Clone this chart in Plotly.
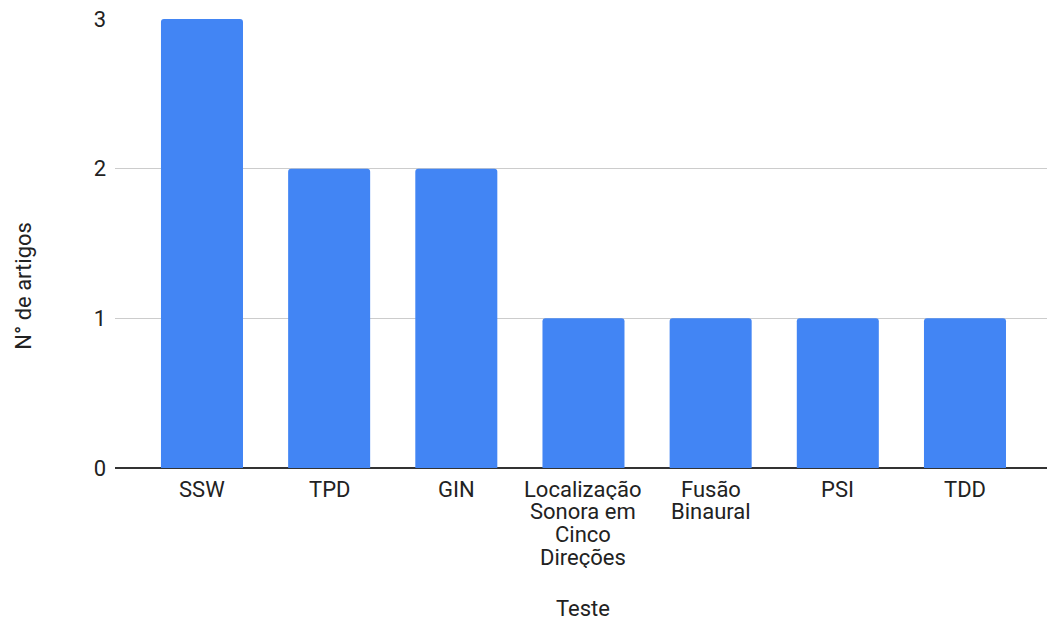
import plotly.graph_objects as go

# Testes de processamento auditivo e número de artigos que os utilizaram
testes = ["SSW", "TPD", "GIN", "Localização\nSonora em\nCinco\nDireções",
          "Fusão\nBinaural", "PSI", "TDD"]
n_artigos = [3, 2, 2, 1, 1, 1, 1]
y_ticks = [0, 1, 2, 3]

FONT = "Roboto, Arial, sans-serif"
TEXT = "#222222"
SIZE = 22
LINE_STEP = 22.7  # distância entre linhas dos rótulos de categoria (px)

fig = go.Figure(
    go.Bar(
        x=list(range(len(testes))),
        y=n_artigos,
        width=0.645,
        marker=dict(color="#4285F4", line=dict(width=0)),
        hovertext=[t.replace("\n", " ") for t in testes],
        hoverinfo="text+y",
    )
)

# Rótulos de categoria, uma linha por anotação para controlar o espaçamento
annotations = []
for i, label in enumerate(testes):
    for k, line in enumerate(label.split("\n")):
        annotations.append(dict(
            text=line, x=i, y=0, xref="x", yref="y",
            xanchor="center", yanchor="top", showarrow=False,
            height=22, borderpad=0, valign="middle",
            yshift=-(8.5 + k * LINE_STEP),
            font=dict(family=FONT, size=SIZE, color=TEXT),
        ))

annotations += [
    dict(text="N° de artigos", xref="paper", yref="paper", x=-0.0976, y=0.406,
         xanchor="center", yanchor="middle", textangle=-90, showarrow=False,
         font=dict(family=FONT, size=SIZE, color=TEXT)),
    dict(text="Teste", xref="paper", yref="paper", x=0.502, y=-0.314,
         xanchor="center", yanchor="middle", showarrow=False,
         font=dict(family=FONT, size=SIZE, color=TEXT)),
]

fig.update_layout(
    width=1048,
    height=623,
    margin=dict(l=115, r=1, t=19, b=155),
    plot_bgcolor="white",
    paper_bgcolor="white",
    barcornerradius=3,
    showlegend=False,
    font=dict(family=FONT, size=SIZE, color=TEXT),
    xaxis=dict(
        range=[-0.684, 6.645],
        tickmode="array",
        tickvals=list(range(len(testes))),
        ticktext=[""] * len(testes),
        showgrid=False,
        zeroline=False,
        showline=False,
        ticks="",
    ),
    yaxis=dict(
        range=[0, 3],
        tickmode="array",
        tickvals=y_ticks,
        ticktext=[str(v) for v in y_ticks],
        showgrid=True,
        gridcolor="#cccccc",
        gridwidth=1,
        zeroline=True,
        zerolinecolor="#333333",
        zerolinewidth=1.5,
        showline=False,
        ticks="",
        ticklabelstandoff=8,
        tickfont=dict(family=FONT, size=SIZE, color=TEXT),
    ),
    annotations=annotations,
)

fig.write_html("out.html")
